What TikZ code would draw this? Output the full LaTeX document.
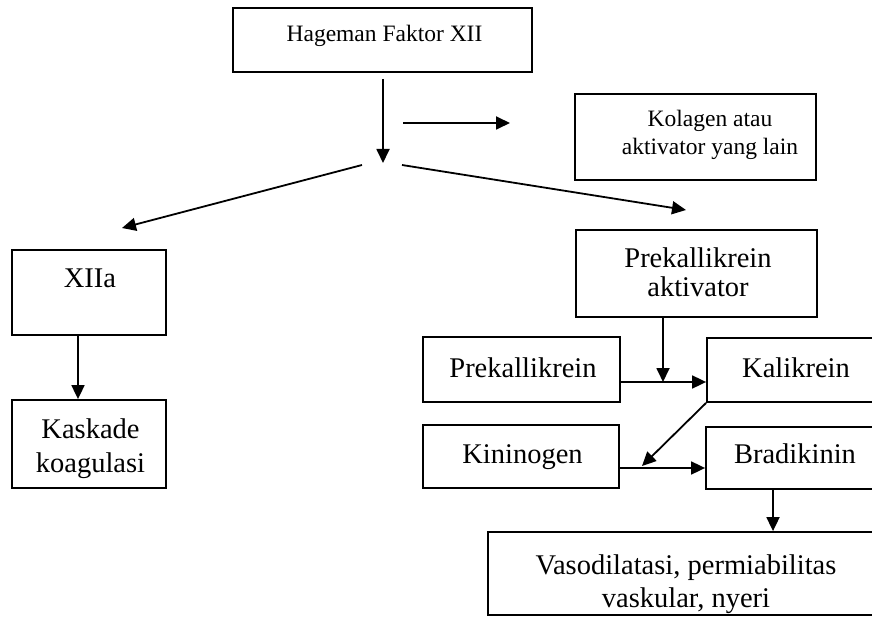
\documentclass[tikz,border=0pt]{standalone}
\usepackage{fontspec}
\setmainfont{Liberation Serif}
\usetikzlibrary{arrows.meta}
\begin{document}
\begin{tikzpicture}[x=1pt,y=-1pt,
  box/.style={draw, line width=1.8pt, inner sep=0pt},
  lbl/.style={inner sep=0pt, align=center, anchor=base, font=\fontsize{28.5}{33}\selectfont},
  lblsmall/.style={inner sep=0pt, align=center, anchor=base, font=\fontsize{23.5}{28}\selectfont},
  arr/.style={line width=1.8pt, -{Triangle[length=14pt,width=13pt]}},
]
\useasboundingbox[fill=white] (0,0) rectangle (872,617);

% boxes
\node[box, minimum width=299pt, minimum height=64pt] (hag)  at (382.5,40)  {};
\node[box, minimum width=241pt, minimum height=86pt] (kol)  at (695.5,137) {};
\node[box, minimum width=154pt, minimum height=85pt] (xiia) at (89,292.5)  {};
\node[box, minimum width=154pt, minimum height=88pt] (kask) at (89,444)    {};
\node[box, minimum width=241pt, minimum height=87pt] (pka)  at (696.5,273.5) {};
\node[box, minimum width=197pt, minimum height=65pt] (pk)   at (521.5,369.5) {};
\node[box, minimum width=168pt, minimum height=64pt] (kal)  at (791,370)   {};
\node[box, minimum width=196pt, minimum height=63pt] (kin)  at (521,456.5) {};
\node[box, minimum width=169pt, minimum height=62pt] (brad) at (790.5,458) {};
\node[box, minimum width=387pt, minimum height=83pt] (vaso) at (681.5,573.5) {};

% labels (multi-line labels sit on the baseline of their last line)
\node[lblsmall] (hagT)  at (384.5,42) {Hageman Faktor XII};
\node[lblsmall] (kolT)  at (710,155)  {Kolagen atau\\aktivator yang lain};
\node[lbl]      (xiiaT) at (90,288)   {XIIa};
\node[lbl, font=\fontsize{28.5}{34}\selectfont] (kaskT) at (90.5,472) {Kaskade\\koagulasi};
\node[lbl, font=\fontsize{28.5}{29}\selectfont] (pkaT)  at (698,297)  {Prekallikrein\\aktivator};
\node[lbl]      (pkT)   at (523,377)  {Prekallikrein};
\node[lbl]      (kalT)  at (796,377)  {Kalikrein};
\node[lbl]      (kinT)  at (522.5,463) {Kininogen};
\node[lbl]      (bradT) at (795,463)  {Bradikinin};
\node[lbl]      (vasoT) at (686,607)  {Vasodilatasi, permiabilitas\\vaskular, nyeri};

% free ends and junctions
\coordinate (split) at (383,163);
\coordinate (hs) at (403,123);
\coordinate (he) at (510,123);
\coordinate (ls) at (362,165);
\coordinate (le) at (122,228);
\coordinate (rs) at (402,165);
\coordinate (re) at (686,210);
\coordinate (kx) at (78,0);
\coordinate (j1) at (663,382);
\coordinate (j2) at (642,466);
\coordinate (kb) at (0,468);
\coordinate (bv) at (773,0);

% connectors
\draw[arr, shorten <=6pt] (hag.south -| split) -- (split);
\draw[arr] (hs) -- (he);
\draw[arr] (ls) -- (le);
\draw[arr] (rs) -- (re);
\draw[arr] (xiia.south -| kx) -- (kask.north -| kx);
\draw[arr] (pka.south -| j1) -- (j1);
\draw[arr] (pk.east |- j1) -- (kal.west |- j1);
\draw[arr] (kal.south west) -- (j2);
\draw[arr] (kin.east |- kb) -- (brad.west |- kb);
\draw[arr] (brad.south -| bv) -- (vaso.north -| bv);
\end{tikzpicture}
\end{document}
